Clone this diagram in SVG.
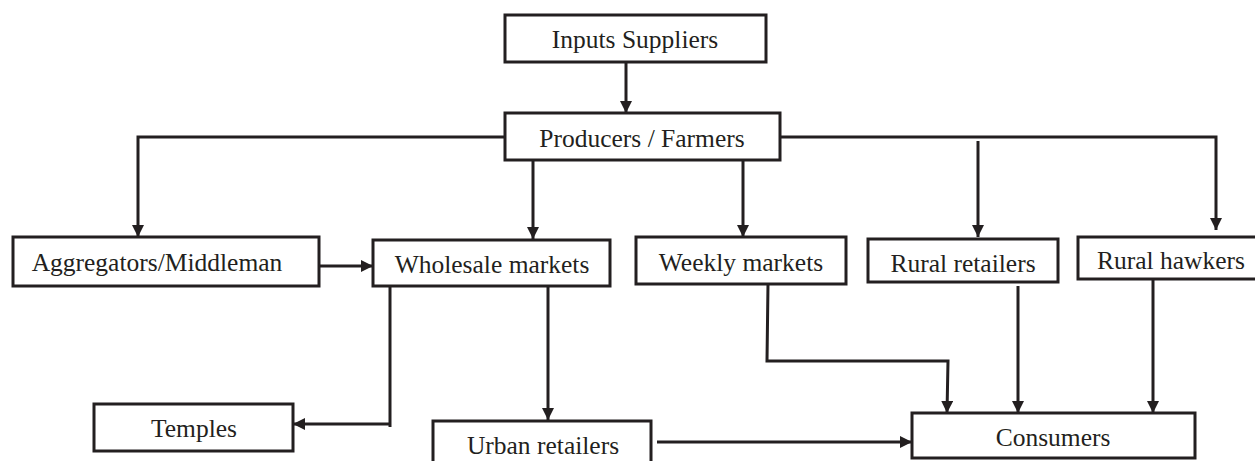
<svg xmlns="http://www.w3.org/2000/svg" width="1255" height="461" viewBox="0 0 1255 461">
<style>
.box{fill:#fff;stroke:#231f20;stroke-width:3}
.lbl{font-family:"Liberation Serif","Times New Roman",serif;font-size:25.5px;fill:#231f20;text-anchor:middle}
.con{fill:none;stroke:#231f20;stroke-width:3}
</style>
<defs>
<marker id="ah" viewBox="0 0 12 12" refX="12" refY="6" markerWidth="12" markerHeight="12" markerUnits="userSpaceOnUse" orient="auto">
<path d="M0,0 L12,6 L0,12 Z" fill="#231f20"/>
</marker>
</defs>
<rect width="1255" height="461" fill="#fff"/>
<g id="connectors">
<path class="con" d="M626,62 V113" marker-end="url(#ah)"/>
<path class="con" d="M505,137 H138 V237" marker-end="url(#ah)"/>
<path class="con" d="M780,137 H1216 V230" marker-end="url(#ah)"/>
<path class="con" d="M978,141 V237" marker-end="url(#ah)"/>
<path class="con" d="M533,160 V239" marker-end="url(#ah)"/>
<path class="con" d="M743,160 V237" marker-end="url(#ah)"/>
<path class="con" d="M319,266 H373" marker-end="url(#ah)"/>
<path class="con" d="M390,286 V427"/>
<path class="con" d="M390,424 H293" marker-end="url(#ah)"/>
<path class="con" d="M548,286 V420" marker-end="url(#ah)"/>
<path class="con" d="M768,284 L767,361 H948 L947,413" marker-end="url(#ah)"/>
<path class="con" d="M1018,286 V413" marker-end="url(#ah)"/>
<path class="con" d="M1153,279 V413" marker-end="url(#ah)"/>
<path class="con" d="M657,442 H912" marker-end="url(#ah)"/>
</g>
<g id="inputs-suppliers"><rect class="box" x="505" y="15" width="261" height="47"/><text class="lbl" x="635" y="48">Inputs Suppliers</text></g>
<g id="producers-farmers"><rect class="box" x="505" y="113" width="275" height="47"/><text class="lbl" x="642" y="147">Producers / Farmers</text></g>
<g id="aggregators"><rect class="box" x="13" y="237" width="306" height="49"/><text class="lbl" x="157" y="271">Aggregators/Middleman</text></g>
<g id="wholesale-markets"><rect class="box" x="373" y="240" width="237" height="46"/><text class="lbl" x="492" y="273">Wholesale markets</text></g>
<g id="weekly-markets"><rect class="box" x="636" y="237" width="210" height="47"/><text class="lbl" x="741" y="271">Weekly markets</text></g>
<g id="rural-retailers"><rect class="box" x="868" y="239" width="190" height="43"/><text class="lbl" x="963" y="272">Rural retailers</text></g>
<g id="rural-hawkers"><rect class="box" x="1078" y="237" width="182" height="42"/><text class="lbl" x="1171" y="269">Rural hawkers</text></g>
<g id="temples"><rect class="box" x="94" y="404" width="199" height="47"/><text class="lbl" x="194" y="437">Temples</text></g>
<g id="urban-retailers"><rect class="box" x="433" y="421" width="218" height="50"/><text class="lbl" x="543" y="454">Urban retailers</text></g>
<g id="consumers"><rect class="box" x="912" y="413" width="283" height="45"/><text class="lbl" x="1053" y="446">Consumers</text></g>
</svg>
